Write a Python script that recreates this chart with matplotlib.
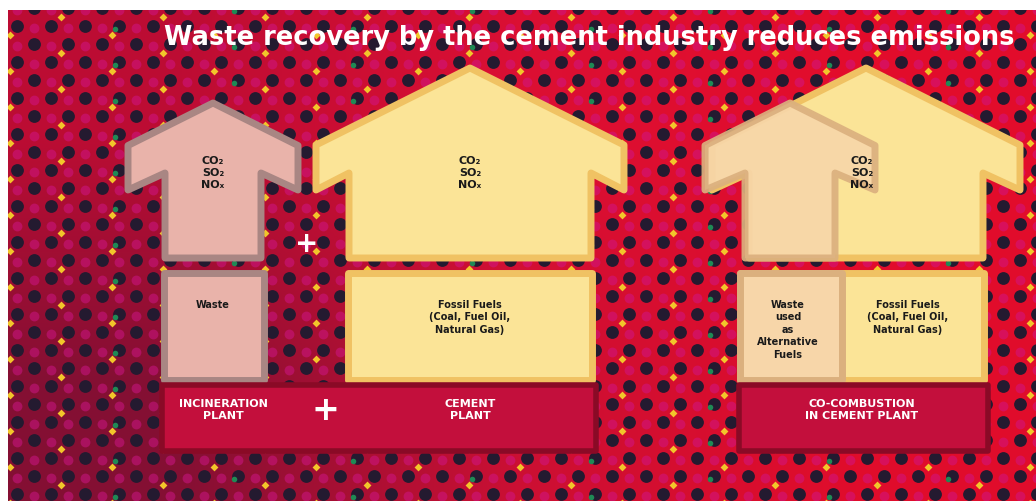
import numpy as np
import matplotlib.pyplot as plt
from matplotlib.patches import Polygon, Rectangle


# Labels on the chart
title = "Waste recovery by the cement industry reduces emissions"
emissions = ["CO\u2082", "SO\u2082", "NO\u2093"]
fuel_labels = ["Waste",
               "Fossil Fuels\n(Coal, Fuel Oil,\nNatural Gas)",
               "Waste\nused\nas\nAlternative\nFuels",
               "Fossil Fuels\n(Coal, Fuel Oil,\nNatural Gas)"]
plant_labels = ["INCINERATION\nPLANT", "CEMENT\nPLANT", "CO-COMBUSTION\nIN CEMENT PLANT"]

W, H = 1036, 501
fig = plt.figure(figsize=(W / 100, H / 100), dpi=100, facecolor='white')
ax = fig.add_axes([8 / W, 0, (W - 8) / W, (H - 10) / H])
ax.set_xlim(8, W)
ax.set_ylim(H, 10)
ax.axis('off')

# red background, darker on the left
grad = np.array([[[0.74, 0.05, 0.20], [0.86, 0.06, 0.20], [0.89, 0.05, 0.17]],
                 [[0.52, 0.06, 0.20], [0.80, 0.06, 0.20], [0.88, 0.05, 0.17]]])
ax.imshow(grad, extent=(8, W, H, 10), interpolation='bilinear', aspect='auto', zorder=0)

# dot pattern
xs, ys = [], []
for r in range(30):
    off = 17 if r % 2 else 0
    for x in range(off, W + 34, 34):
        xs.append(x)
        ys.append(8 + r * 18)
xs, ys = np.array(xs), np.array(ys)
ax.scatter(xs + 17, ys + 2, s=50, color='#d0158c', alpha=0.5, lw=0, zorder=1)
ax.scatter(xs, ys, s=85, color='#241a30', lw=0, zorder=2)
ax.scatter(xs[::3] + 10, ys[::3] - 9, s=16, color='#f2c62a', marker='D', lw=0, zorder=2)
ax.scatter(xs[::7] - 4, ys[::7] + 3, s=16, color='#1f8a55', lw=0, zorder=3)


def arrow(cx, tip, hw, sw, fc, ec, alpha=1.0):
    pts = [(cx, tip), (cx + hw, tip + hw * 0.5), (cx + hw, 190), (cx + sw, 173),
           (cx + sw, 258), (cx - sw, 258), (cx - sw, 173), (cx - hw, 190),
           (cx - hw, tip + hw * 0.5)]
    ax.add_patch(Polygon(pts, closed=True, fc=fc, ec=ec, lw=5, alpha=alpha,
                         joinstyle='round', zorder=5))


def box(x0, y0, x1, y1, fc, ec, lw=5, z=5):
    ax.add_patch(Rectangle((x0, y0), x1 - x0, y1 - y0, fc=fc, ec=ec, lw=lw,
                           joinstyle='round', zorder=z))


pink, pink_e = '#e9b3aa', '#a98683'
yel, yel_e = '#fbe497', '#f0c263'
peach, peach_e = '#f7d6a9', '#dbb07e'
band, band_e = '#c30f3c', '#8a0a26'

# arrows
arrow(213, 103, 85, 48, pink, pink_e)
arrow(470, 68, 154, 121, yel, yel_e)
arrow(866, 68, 154, 117, yel, yel_e)
arrow(790, 103, 85, 45, peach, peach_e, alpha=0.92)

# fuel boxes
box(164, 273, 264, 380, pink, pink_e)
box(348, 273, 592, 380, yel, yel_e)
box(740, 273, 984, 380, yel, yel_e)
box(740, 273, 842, 380, peach, peach_e, z=6)

# plant bands
box(162, 385, 596, 451, band, band_e, lw=4, z=7)
box(739, 385, 988, 451, band, band_e, lw=4, z=7)

# texts
fnt = dict(fontfamily='DejaVu Sans', fontweight='bold', zorder=10)
for cx in [213, 470, 862]:
    ax.text(cx, 173, "\n".join(emissions), ha='center', va='center', fontsize=8,
            color='#1a1a1a', linespacing=1.3, **fnt)

fuel_pos = [(213, 300), (470, 300), (788, 300), (908, 300)]
for (x, y), lab in zip(fuel_pos, fuel_labels):
    ax.text(x, y, lab, ha='center', va='top', fontsize=7, color='#1a1a1a',
            linespacing=1.3, **fnt)

plant_pos = [(223, 410), (470, 410), (862, 410)]
for (x, y), lab in zip(plant_pos, plant_labels):
    ax.text(x, y, lab, ha='center', va='center', fontsize=8, color='white',
            linespacing=1.3, **fnt)

ax.text(325, 411, "+", ha='center', va='center', fontsize=24, color='white', **fnt)
ax.text(307, 244, "+", ha='center', va='center', fontsize=20, color='white', **fnt)

ax.text(589, 38, title, ha='center', va='center', fontsize=18.5, color='white', **fnt)

fig.savefig('out.png', dpi=100, facecolor='white')
